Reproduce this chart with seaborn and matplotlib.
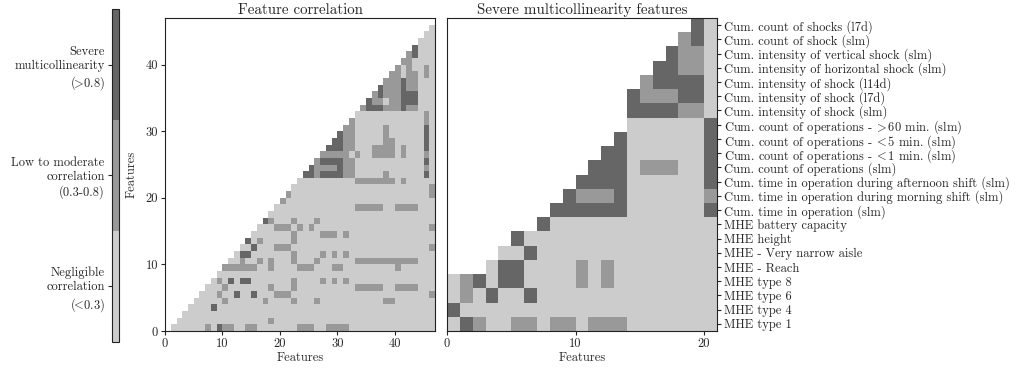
import numpy as np
import pandas as pd
import seaborn as sns
import matplotlib.pyplot as plt
from matplotlib.colors import ListedColormap

# Correlation classes: "." = not shown, 0 = <0.3, 1 = 0.3-0.8, 2 = >0.8
level_colors = ["#cccccc", "#999999", "#666666"]
level_labels = [
    "Negligible\ncorrelation\n($\\!\\!{<}\\!$0.3)",
    "Low to moderate\ncorrelation\n(0.3-0.8)",
    "Severe\nmulticollinearity\n($\\!\\!{>}\\!$0.8)",
]

# Left panel, one string per feature row (row 0 = bottom), columns 0..46
corr_rows = [
    ".000000102 1100110000 0001110011 1100000000 0000000",
    "..00000000 0000000010 0000000000 0000000000 0000000",
    "...0000000 0000000000 0000000000 0000000000 0000000",
    "....000020 0000000000 0000000000 0000000000 0000000",
    ".....00000 1000000100 0010001000 0000000011 0000000",
    "......0001 0020020001 1100000000 0000000000 0000001",
    ".......000 1000000010 0010000000 0001111100 1111000",
    "........01 0202200000 0010000101 0100000000 0000000",
    ".........0 0000000000 0000000000 0000000000 0000000",
    ".......... 1111110010 0001110001 1000000000 1000000",
    ".......... .001001010 0010001000 0001111111 1111000",
    ".......... ..02200000 0010000101 0100000000 0000000",
    ".......... ...0020001 1100000000 0000000000 0000001",
    ".......... ....201000 0010000000 0000000000 0000000",
    ".......... .....00000 0010000111 0100000000 0000000",
    ".......... ......0001 1101010000 0000000000 0000001",
    ".......... .......210 0010001000 0000000000 0000000",
    ".......... ........00 0000000000 0000000000 0000000",
    ".......... .........0 0000000000 0001111100 1111000",
    ".......... .......... 1000000000 0000000000 0000000",
    ".......... .......... .100000000 0000000000 0000001",
    ".......... .......... ..00000000 0000000000 0000001",
    ".......... .......... ...0000000 0001111111 0100000",
    ".......... .......... ....221222 2110000010 0000020",
    ".......... .......... .....21111 2110000000 0000010",
    ".......... .......... ......1222 2110000000 0000020",
    ".......... .......... .......111 1101001111 0100010",
    ".......... .......... ........22 2110001111 0100020",
    ".......... .......... .........2 2110000011 0000020",
    ".......... .......... .......... 2110000010 0000020",
    ".......... .......... .......... .110000010 0000020",
    ".......... .......... .......... ..10000000 0000010",
    ".......... .......... .......... ...0000000 0000010",
    ".......... .......... .......... ....122211 1211000",
    ".......... .......... .......... .....21101 1222000",
    ".......... .......... .......... ......1211 1222000",
    ".......... .......... .......... .......211 1211000",
    ".......... .......... .......... ........11 1211000",
    ".......... .......... .......... .........1 1011010",
    ".......... .......... .......... .......... 1010010",
    ".......... .......... .......... .......... .110000",
    ".......... .......... .......... .......... ..12000",
    ".......... .......... .......... .......... ...2000",
    ".......... .......... .......... .......... ....000",
    ".......... .......... .......... .......... .....00",
    ".......... .......... .......... .......... ......0",
    ".......... .......... .......... .......... .......",
]

# Right panel, severe features (row 0 = bottom), columns 0..20
severe_rows = [
    "0210011011 0111000000 0",
    "2000000000 0000000000 0",
    "0102002000 0000000000 0",
    "0120220000 1010000000 0",
    "...0220000 1010000000 0",
    "....002000 0000000000 0",
    ".....20000 0000000000 0",
    ".......200 0000000000 0",
    "........22 2222000000 2",
    ".........2 1112000000 1",
    ".......... 2222000000 2",
    ".......... .222011100 2",
    ".......... ..22000000 2",
    ".......... ...2000000 2",
    ".......... ....000000 2",
    ".......... ....222211 0",
    ".......... ....211122 0",
    ".......... .....12222 0",
    ".......... ......2211 0",
    ".......... .......211 0",
    ".......... ........12 0",
    ".......... .........2 0",
]

severe_features = [
    "MHE type 1",
    "MHE type 4",
    "MHE type 6",
    "MHE type 8",
    "MHE - Reach",
    "MHE - Very narrow aisle",
    "MHE height",
    "MHE battery capacity",
    "Cum. time in operation (slm)",
    "Cum. time in operation during morning shift (slm)",
    "Cum. time in operation during afternoon shift (slm)",
    "Cum. count of operations (slm)",
    "Cum. count of operations - $\\!{<}$1 min. (slm)",
    "Cum. count of operations - $\\!{<}$5 min. (slm)",
    "Cum. count of operations - $\\!{>}$60 min. (slm)",
    "Cum. intensity of shock (slm)",
    "Cum. intensity of shock (l7d)",
    "Cum. intensity of shock (l14d)",
    "Cum. intensity of horizontal shock (slm)",
    "Cum. intensity of vertical shock (slm)",
    "Cum. count of shock (slm)",
    "Cum. count of shocks (l7d)",
]


def to_frame(rows):
    grid = [[np.nan if ch == "." else float(ch) for ch in "".join(r.split())] for r in rows]
    return pd.DataFrame(grid)


corr_df = to_frame(corr_rows)
severe_df = to_frame(severe_rows)

sns.set_style("ticks")
plt.rcParams["font.family"] = ["cmr10", "DejaVu Serif"]
plt.rcParams["mathtext.fontset"] = "cm"
plt.rcParams["axes.formatter.use_mathtext"] = True
plt.rcParams["font.size"] = 9

cmap = ListedColormap(level_colors)

fig = plt.figure(figsize=(10.18, 3.70), dpi=100)
ax1 = fig.add_axes([0.1621, 0.1054, 0.2652, 0.8459])
ax2 = fig.add_axes([0.4391, 0.1054, 0.2652, 0.8459])
cax = fig.add_axes([0.1097, 0.0765, 0.0075, 0.8984])

# Feature correlation
sns.heatmap(corr_df, ax=ax1, cmap=cmap, vmin=-0.5, vmax=2.5, cbar_ax=cax,
            xticklabels=False, yticklabels=False)
ax1.invert_yaxis()
ax1.set_xticks([0, 10, 20, 30, 40])
ax1.set_xticklabels(["0", "10", "20", "30", "40"])
ax1.set_yticks([0, 10, 20, 30, 40])
ax1.set_yticklabels(["0", "10", "20", "30", "40"], rotation=0)
ax1.set_xlabel("Features", labelpad=1)
ax1.set_ylabel("Features", labelpad=6)
ax1.set_title("Feature correlation", pad=3)

cbar = ax1.collections[0].colorbar
cbar.set_ticks([0, 1, 2])
cbar.set_ticklabels(level_labels)
cax.yaxis.set_ticks_position("left")
cax.tick_params(length=3, width=0.8, pad=2)
cbar.outline.set_linewidth(0.8)
cbar.outline.set_edgecolor("#222222")

# Severe multicollinearity features
sns.heatmap(severe_df, ax=ax2, cmap=cmap, vmin=-0.5, vmax=2.5, cbar=False,
            xticklabels=False, yticklabels=False)
ax2.invert_yaxis()
ax2.set_xticks([0, 10, 20])
ax2.set_xticklabels(["0", "10", "20"])
ax2.yaxis.tick_right()
ax2.set_yticks(np.arange(len(severe_features)) + 0.5)
ax2.set_yticklabels(severe_features, rotation=0)
ax2.set_xlabel("Features", labelpad=1)
ax2.set_title("Severe multicollinearity features", pad=3)

for ax in (ax1, ax2):
    for s in ax.spines.values():
        s.set_visible(True)
        s.set_linewidth(0.8)
        s.set_color("#222222")
    ax.tick_params(length=3, width=0.8, pad=2)

fig.savefig("out.png", dpi=100)
